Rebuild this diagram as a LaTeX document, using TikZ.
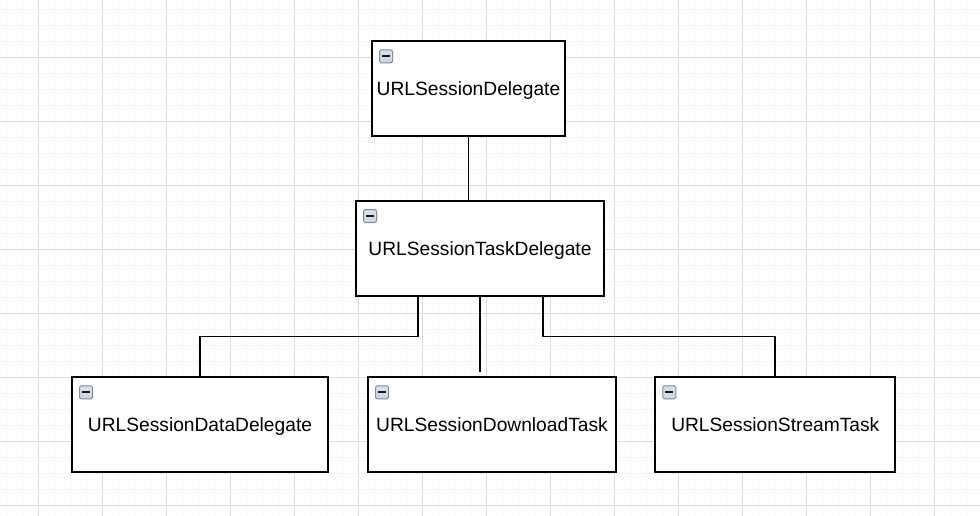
\documentclass[tikz,border=0pt]{standalone}
\usepackage{fontspec}
\setmainfont{Liberation Sans}
\usetikzlibrary{positioning}
\definecolor{gridmajor}{HTML}{DADADA}
\definecolor{gridminor}{HTML}{F5F5F5}
\definecolor{iconedge}{HTML}{7F8D9E}
\definecolor{icontop}{HTML}{DCE4EE}
\definecolor{iconbot}{HTML}{9DAFC4}
\begin{document}
\begin{tikzpicture}[x=1pt,y=-1pt,
  minorline/.style={gridminor,line width=1.4pt},majorline/.style={gridmajor,line width=1pt},
  classbox/.style={draw,line width=1.7pt,fill=white,minimum height=95pt,inner sep=0pt,
    text height=13.8pt,text depth=0pt,font=\fontsize{19.2}{22}\selectfont,
    path picture={\shade[draw=iconedge,line width=1pt,rounded corners=1.5pt,top color=icontop,bottom color=iconbot]
      ([shift={(7.5,8.5)}]path picture bounding box.north west) rectangle ++(13,13);
      \draw[line width=2.2pt,black!90] ([shift={(10,15)}]path picture bounding box.north west) -- ++(8,0);}},
  link/.style={draw,line width=1.7pt}]
\useasboundingbox (0,0) rectangle (980,516);
\fill[white] (0,0) rectangle (980,516);
\foreach \i in {0,...,61} \draw[minorline] ({6.3+16*\i},0) -- ({6.3+16*\i},516);
\foreach \i in {0,...,31} \draw[minorline] (0,{9.3+16*\i}) -- (980,{9.3+16*\i});
\foreach \i in {0,...,14} \draw[majorline] ({38.3+64*\i},0) -- ({38.3+64*\i},516);
\foreach \i in {0,...,7} \draw[majorline] (0,{57.3+64*\i}) -- (980,{57.3+64*\i});
\node[classbox,minimum width=193pt] (sess) at (468.5,88.8) {URLSessionDelegate};
\node[classbox,minimum width=248pt] (task) at (480,248.5) {URLSessionTaskDelegate};
\node[classbox,minimum width=256pt] (data) at (200,424.8) {URLSessionDataDelegate};
\node[classbox,minimum width=248pt,right=38.3pt of data] (down) {URLSessionDownloadTask};
\node[classbox,minimum width=240pt,right=37.6pt of down] (strm) {URLSessionStreamTask};
\draw[link] (sess.south) -- (sess.south |- task.north);
\draw[link] ([xshift=-62pt]task.south) |- ([yshift=40pt]data.north) -- (data.north);
\draw[link] (task.south) -- ([yshift=4pt]down.north -| task.south);
\draw[link] ([xshift=63pt]task.south) |- ([yshift=40pt]strm.north) -- (strm.north);
\end{tikzpicture}
\end{document}
